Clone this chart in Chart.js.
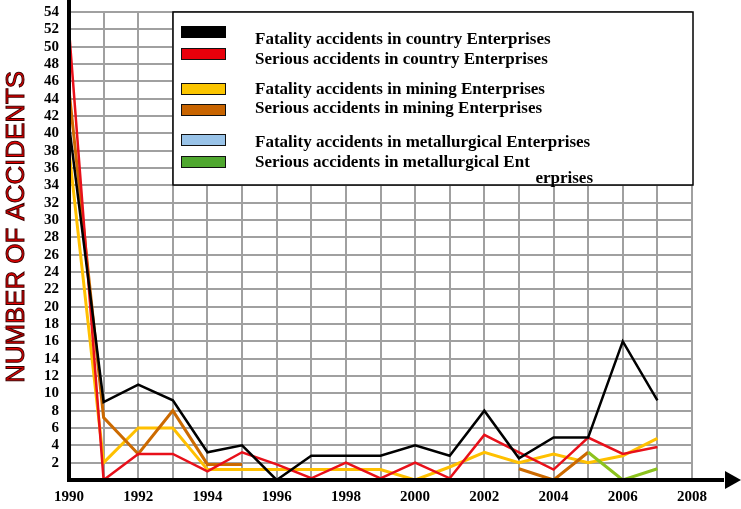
<!DOCTYPE html>
<html>
<head>
<meta charset="utf-8">
<script src="https://cdn.jsdelivr.net/npm/chart.js@4.4.0/dist/chart.umd.min.js"></script>
<style>
    html, body { margin: 0; padding: 0; background: #fff; }
    #wrap { width: 741px; height: 509px; position: relative; }
</style>
</head>
<body>
<div id="wrap"><canvas id="myChart"></canvas></div>
<script>
(function() {
    'use strict';

    // data
    var years = ['1990', '1991', '1992', '1993', '1994', '1995', '1996', '1997', '1998', '1999',
                 '2000', '2001', '2002', '2003', '2004', '2005', '2006', '2007', '2008'];
    var fatalCountry   = [41, 9, 11, 9.2, 3.2, 4, 0, 2.8, 2.8, 2.8, 4, 2.8, 8, 2.5, 4.9, 4.9, 16, 9.2];
    var seriousCountry = [52, 0, 3, 3, 1, 3.2, 1.8, 0.2, 2, 0.2, 2, 0.2, 5.2, 3.2, 1.2, 4.9, 3, 3.8];
    var fatalMining    = [38, 2, 6, 6, 1.2, 1.2, 1.2, 1.2, 1.2, 1.2, 0, 1.5, 3.2, 2, 3, 2, 2.8, 4.8];
    var seriousMining  = [45, 7.2, 3, 8, 1.8, 1.8, null, null, null, null, null, null, null, 1.3, 0, 3.2, null, null];
    var fatalMetal     = [];
    var seriousMetal   = [null, null, null, null, null, null, null, null, null, null, null, null, null, null, null, 3.2, 0, 1.3];
    var yTicks = [2, 54, 2]; // first, last, step

    var ctx = document.getElementById('myChart');

    //legend box drawn over the grid, before the lines
    var legendBox = {
        id: 'legendBox',
        beforeDatasetsDraw: function(chart) {
            var c = chart.ctx;
            c.save();
            c.fillStyle = '#fff';
            c.fillRect(173, 12, 520, 173);
            c.strokeStyle = '#000';
            c.lineWidth = 1.5;
            c.strokeRect(173, 12, 520, 173);
            var rows = [32, 54, 89, 110, 140, 162];
            var texts = [40, 60, 90, 109, 143, 163];
            c.font = 'bold 17px "Liberation Serif"';
            c.textBaseline = 'middle';
            chart.data.datasets.forEach(function(ds, i) {
                c.fillStyle = ds.swatch;
                c.fillRect(181, rows[i] - 6, 45, 12);
                if (i > 0) {
                    c.strokeStyle = '#111';
                    c.lineWidth = 1;
                    c.strokeRect(181.5, rows[i] - 5.5, 44, 11);
                }
                c.fillStyle = '#000';
                c.fillText(ds.legendText, 255, texts[i]);
            });
            c.textAlign = 'right';
            c.fillText('erprises', 593, 179);
            c.restore();
        },
        afterDatasetsDraw: function(chart) {
            var c = chart.ctx;
            var a = chart.chartArea;
            c.save();
            c.fillStyle = '#000';
            // y axis
            c.fillRect(a.left - 2, 0, 4, a.bottom + 2);
            // x axis with arrow
            c.fillRect(a.left - 2, a.bottom - 2, 726 - a.left, 4);
            c.beginPath();
            c.moveTo(725, a.bottom - 9);
            c.lineTo(741, a.bottom);
            c.lineTo(725, a.bottom + 9);
            c.closePath();
            c.fill();
            // axis title
            c.translate(17, 227);
            c.rotate(-Math.PI / 2);
            c.font = '26px "Liberation Sans"';
            c.textAlign = 'center';
            c.textBaseline = 'middle';
            c.fillStyle = '#e60000';
            c.fillText('NUMBER OF ACCIDENTS', 0, 0, 312);
            c.strokeStyle = '#3a0000';
            c.lineWidth = 1;
            c.strokeText('NUMBER OF ACCIDENTS', 0, 0, 312);
            c.restore();
        }
    };

    var line = function(label, values, color, swatch, width, order) {
        return {
            label: label,
            legendText: label,
            data: values,
            borderColor: color,
            backgroundColor: color,
            swatch: swatch,
            borderWidth: width,
            pointRadius: 0,
            tension: 0,
            spanGaps: false,
            order: order
        };
    };

    var serif = { family: '"Liberation Serif"', size: 15, weight: 'bold' };

    var chart = new Chart(ctx, {
        type: 'line',
        data: {
            labels: years,
            datasets: [
                line('Fatality accidents in country Enterprises', fatalCountry, '#000000', '#000000', 2.5, 1),
                line('Serious accidents in country Enterprises', seriousCountry, '#e8101a', '#e8000b', 2.5, 2),
                line('Fatality accidents in mining Enterprises', fatalMining, '#ffc000', '#fbc500', 3, 5),
                line('Serious accidents in mining Enterprises', seriousMining, '#cc6a00', '#c86400', 3, 4),
                line('Fatality accidents in metallurgical Enterprises', fatalMetal, '#99c3e8', '#99c3e8', 3, 6),
                line('Serious accidents in metallurgical Ent', seriousMetal, '#8cc21e', '#4fa72f', 3, 3)
            ]
        },
        options: {
            responsive: true,
            maintainAspectRatio: false,
            animation: false,
            layout: { padding: { left: 0, right: 49, top: 12, bottom: 0 } },
            plugins: {
                legend: { display: false },
                tooltip: { enabled: false }
            },
            scales: {
                x: {
                    type: 'category',
                    offset: false,
                    afterFit: function(s) { s.height = 29; s.paddingLeft = 0; s.paddingRight = 0; },
                    grid: { color: '#a0a0a0', lineWidth: 2, drawTicks: false },
                    border: { display: false },
                    ticks: {
                        autoSkip: false,
                        maxRotation: 0,
                        padding: 8,
                        color: '#000',
                        font: serif,
                        callback: function(v, i) { return i % 2 === 0 ? years[i] : ''; }
                    }
                },
                y: {
                    min: 0,
                    max: yTicks[1],
                    afterFit: function(s) { s.width = 69; s.paddingTop = 0; s.paddingBottom = 0; },
                    grid: { color: '#a0a0a0', lineWidth: 2, drawTicks: false },
                    border: { display: false },
                    ticks: {
                        autoSkip: false,
                        stepSize: yTicks[2],
                        padding: 10,
                        color: '#000',
                        font: serif,
                        callback: function(v) { return v >= yTicks[0] ? v : ''; }
                    }
                }
            }
        },
        plugins: [legendBox]
    });
})();
</script>
</body>
</html>
